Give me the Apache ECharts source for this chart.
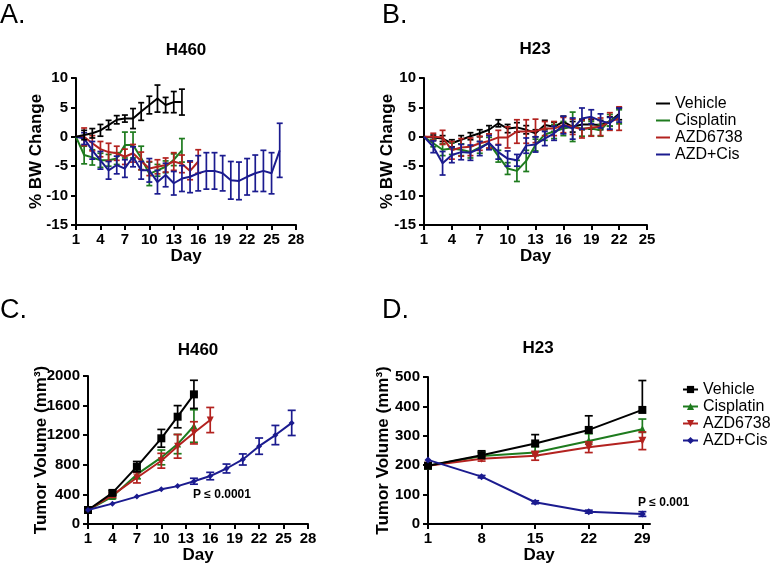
<!DOCTYPE html>
<html><head><meta charset="utf-8">
<script src="https://cdn.jsdelivr.net/npm/echarts@6/dist/echarts.min.js"></script>
<style>html,body{margin:0;padding:0;background:#fff}#c{width:772px;height:567px}</style>
</head><body><div id="c"></div>
<script>
// ---------- DATA ----------
const seriesNames = ['Vehicle', 'Cisplatin', 'AZD6738', 'AZD+Cis'];

// Panel A: H460 body weight change (%)
const daysA_short = [1,2,3,4,5,6,7,8,9,10,11,12,13,14];
const daysA_azd = [1,2,3,4,5,6,7,8,9,10,11,12,13,14,15,16];
const daysA_combo = [1,2,3,4,5,6,7,8,9,10,11,12,13,14,15,16,17,18,19,20,21,22,23,24,25,26];
const A_vehicle = [0, 0.3, 0.6, 1.1, 2.0, 2.9, 3.1, 3.1, 4.3, 5.4, 6.5, 5.4, 5.9, 5.9];
const A_vehicle_err = [0, 0.8, 0.8, 1.0, 0.8, 0.7, 0.6, 1.7, 1.5, 1.5, 2.3, 1.3, 1.8, 2.2];
const A_cis = [0, -3.1, -3.5, -4.0, -4.0, -3.7, -1.4, -1.4, -3.6, -6.3, -5.7, -5.1, -3.9, -2.3];
const A_cis_err = [0, 1.5, 1.3, 1.2, 1.0, 1.0, 2.2, 2.2, 2.0, 2.0, 1.0, 1.0, 1.0, 2.0];
const A_azd = [0, 0, -1.1, -2.1, -2.6, -2.8, -3.4, -2.8, -4.1, -5.4, -5.1, -4.8, -4.2, -4.6, -5.8, -4.2];
const A_azd_err = [0, 1.5, 1.3, 1.3, 1.5, 1.2, 1.3, 1.5, 1.5, 1.2, 1.2, 1.2, 1.5, 1.5, 1.5, 2.0];
const A_combo = [0, -0.3, -2.3, -4.0, -5.7, -4.8, -5.4, -3.4, -5.7, -5.7, -7.7, -6.5, -7.9, -7.1, -6.8, -6.2, -5.8, -5.8, -6.2, -7.4, -7.5, -6.8, -6.2, -5.8, -6.2, -2.3];
const A_combo_err = [0, 1.0, 1.5, 1.5, 1.5, 1.5, 1.5, 1.7, 1.5, 2.0, 2.0, 2.0, 2.0, 2.2, 2.7, 3.0, 3.1, 3.1, 3.0, 3.2, 3.2, 3.1, 3.1, 3.5, 3.5, 4.6];

// Panel B: H23 body weight change (%)
const daysB = [1,2,3,4,5,6,7,8,9,10,11,12,13,14,15,16,17,18,19,20,21,22];
const B_vehicle = [0, -0.1, -0.3, -1.1, -0.5, 0.1, 0.6, 1.2, 2.3, 1.4, 1.6, 1.2, 0.6, 2.0, 1.7, 2.6, 1.7, 2.1, 2.1, 2.0, 2.6, 3.9];
const B_vehicle_err = [0, 0.4, 0.5, 0.6, 0.7, 0.6, 0.6, 0.7, 0.6, 0.7, 0.8, 0.7, 0.6, 0.8, 0.8, 0.9, 0.9, 0.9, 0.8, 0.8, 0.8, 1.0];
const B_cis = [0, -1.1, -2.2, -2.0, -2.2, -2.6, -1.8, -1.1, -3.3, -5.4, -5.8, -4.1, -1.4, 0.4, 0.9, 1.4, 1.7, 1.4, 1.4, 1.1, 2.8, 3.4];
const B_cis_err = [0, 0.6, 1.0, 1.0, 1.0, 1.0, 1.0, 1.0, 1.0, 1.0, 1.8, 1.8, 1.0, 1.0, 1.2, 1.2, 2.5, 1.3, 1.2, 1.0, 1.0, 1.2];
const B_azd = [0, 0, -0.1, -2.3, -1.8, -1.7, -1.1, -0.7, -0.1, -0.1, 0.9, 0.9, 1.0, 1.4, 1.4, 2.0, 1.7, 1.3, 1.6, 1.7, 2.6, 3.1];
const B_azd_err = [0, 0.6, 1.2, 1.5, 1.5, 1.5, 1.2, 1.2, 1.2, 1.8, 2.0, 2.0, 2.0, 1.2, 1.2, 1.3, 1.3, 1.5, 1.5, 1.5, 1.5, 2.0];
const B_combo = [0, -1.7, -4.5, -3.1, -2.6, -2.7, -2.0, -1.0, -2.6, -3.7, -4.0, -1.5, -1.3, -0.3, 0.6, 2.0, 1.4, 3.1, 3.4, 2.7, 2.3, 3.7];
const B_combo_err = [0, 1.0, 2.0, 1.3, 1.3, 1.3, 1.2, 1.2, 1.2, 1.3, 1.0, 1.3, 1.3, 1.2, 1.2, 1.5, 1.8, 1.8, 1.2, 1.2, 1.0, 1.2];

// Panel C: H460 tumor volume (mm3)
const daysC_short = [1, 4, 7, 10, 12, 14];
const daysC_azd = [1, 4, 7, 10, 12, 14, 16];
const daysC_combo = [1, 4, 7, 10, 12, 14, 16, 18, 20, 22, 24, 26];
const C_vehicle = [189, 420, 775, 1158, 1450, 1752];
const C_vehicle_err = [0, 30, 70, 120, 150, 190];
const C_cis = [189, 370, 670, 900, 1080, 1324];
const C_cis_err = [0, 25, 60, 100, 130, 220];
const C_azd = [189, 390, 625, 855, 1050, 1232, 1405];
const C_azd_err = [0, 30, 70, 100, 160, 150, 170];
const C_combo = [189, 275, 370, 470, 512, 578, 648, 750, 872, 1052, 1202, 1366];
const C_combo_err = [0, 0, 0, 0, 0, 40, 50, 60, 75, 110, 130, 170];

// Panel D: H23 tumor volume (mm3)
const daysD = [1, 8, 15, 22, 29];
const D_vehicle = [198, 234, 274, 320, 388];
const D_vehicle_err = [0, 15, 30, 48, 100];
const D_cis = [198, 231, 243, 282, 322];
const D_cis_err = [0, 12, 20, 25, 35];
const D_azd = [198, 222, 232, 261, 283];
const D_azd_err = [0, 8, 15, 18, 30];
const D_combo = [218, 161, 74, 42, 34];
const D_combo_err = [0, 4, 5, 5, 8];

// Tick labels
const ticksA = [1, 4, 7, 10, 13, 16, 19, 22, 25, 28];
const ticksB = [1, 4, 7, 10, 13, 16, 19, 22, 25];
const ticksC = [1, 4, 7, 10, 13, 16, 19, 22, 25, 28];
const ticksD = [1, 8, 15, 22, 29];

// ---------- STYLE ----------
const FONT = "'Liberation Sans', Arial, sans-serif";
const colors = ['#000000', '#1e7b1e', '#b3221f', '#1b1b8f'];
const invTri = 'path://M0,0 L10,0 L5,9 Z';

function makeErr(cap, dir) {
  return function (params, api) {
    const x = api.value(0), y = api.value(1), e = api.value(2);
    if (!e) return null;
    const hi = api.coord([x, dir === 'down' ? y : y + e]);
    const lo = api.coord([x, dir === 'up' ? y : y - e]);
    const st = { stroke: api.visual('color'), lineWidth: 1.7 };
    const ch = [{ type: 'line', shape: { x1: hi[0], y1: hi[1], x2: lo[0], y2: lo[1] }, style: st }];
    if (dir !== 'down') ch.push({ type: 'line', shape: { x1: hi[0] - cap, y1: hi[1], x2: hi[0] + cap, y2: hi[1] }, style: st });
    if (dir !== 'up') ch.push({ type: 'line', shape: { x1: lo[0] - cap, y1: lo[1], x2: lo[0] + cap, y2: lo[1] }, style: st });
    return { type: 'group', children: ch };
  };
}

const series = [];
function addGroup(g, ci, days, vals, errs, opt) {
  const name = seriesNames[ci];
  series.push({
    type: 'line', name, xAxisIndex: g, yAxisIndex: g,
    data: days.map((d, k) => [d, vals[k]]),
    symbol: opt.symbol || 'none', symbolSize: opt.size || 0, showSymbol: !!opt.symbol,
    lineStyle: { color: colors[ci], width: 2 }, itemStyle: { color: colors[ci] },
    z: opt.z, silent: true, animation: false
  });
  series.push({
    type: 'custom', name: name + ' error', xAxisIndex: g, yAxisIndex: g,
    data: days.map((d, k) => [d, vals[k], errs[k]]), encode: { x: 0, y: 1 },
    itemStyle: { color: colors[ci] }, renderItem: makeErr(opt.cap, opt.dir || 'both'),
    z: opt.z, silent: true, animation: false
  });
}

// C first so legend picks symbols
addGroup(2, 0, daysC_short, C_vehicle, C_vehicle_err, { symbol: 'rect', size: 8, cap: 4, z: 5 });
addGroup(2, 1, daysC_short, C_cis, C_cis_err, { symbol: 'triangle', size: 7, cap: 4, z: 3 });
addGroup(2, 2, daysC_azd, C_azd, C_azd_err, { symbol: invTri, size: 7, cap: 4, z: 4 });
addGroup(2, 3, daysC_combo, C_combo, C_combo_err, { symbol: 'diamond', size: 6, cap: 4, z: 6 });
addGroup(3, 0, daysD, D_vehicle, D_vehicle_err, { symbol: 'rect', size: 8, cap: 4, z: 5, dir: 'up' });
addGroup(3, 1, daysD, D_cis, D_cis_err, { symbol: 'triangle', size: 8, cap: 4, z: 3, dir: 'up' });
addGroup(3, 2, daysD, D_azd, D_azd_err, { symbol: invTri, size: 8, cap: 4, z: 4 });
addGroup(3, 3, daysD, D_combo, D_combo_err, { symbol: 'diamond', size: 7, cap: 4, z: 6 });
addGroup(0, 1, daysA_short, A_cis, A_cis_err, { cap: 3, z: 3 });
addGroup(0, 2, daysA_azd, A_azd, A_azd_err, { cap: 3, z: 4 });
addGroup(0, 3, daysA_combo, A_combo, A_combo_err, { cap: 3, z: 5 });
addGroup(0, 0, daysA_short, A_vehicle, A_vehicle_err, { cap: 3, z: 6 });
addGroup(1, 0, daysB, B_vehicle, B_vehicle_err, { cap: 3, z: 3 });
addGroup(1, 1, daysB, B_cis, B_cis_err, { cap: 3, z: 4 });
addGroup(1, 2, daysB, B_azd, B_azd_err, { cap: 3, z: 5 });
addGroup(1, 3, daysB, B_combo, B_combo_err, { cap: 3, z: 6 });

const axLine = { onZero: false, lineStyle: { color: '#000', width: 2 } };
const tickStyle = { color: '#000', width: 2 };
const labStyle = { color: '#000', fontFamily: FONT, fontWeight: 'bold', fontSize: 15, formatter: v => String(v) };
const nameStyle = { color: '#000', fontFamily: FONT, fontWeight: 'bold', fontSize: 17 };

function xAx(g, min, max, ticks) {
  return {
    type: 'value', gridIndex: g, min, max, name: 'Day', nameLocation: 'middle', nameGap: 21,
    nameTextStyle: nameStyle, axisLine: axLine,
    axisTick: { customValues: ticks, length: 5, lineStyle: tickStyle },
    axisLabel: Object.assign({ customValues: ticks, margin: 7 }, labStyle),
    splitLine: { show: false }
  };
}
function yAx(g, min, max, interval, name, gap) {
  return {
    type: 'value', gridIndex: g, min, max, interval, name, nameLocation: 'middle', nameGap: gap,
    nameMoveOverlap: false,
    nameTextStyle: nameStyle, axisLine: axLine,
    axisTick: { show: true, length: 5, lineStyle: tickStyle },
    axisLabel: Object.assign({ margin: 8 }, labStyle),
    splitLine: { show: false }
  };
}

const legendText = { color: '#000', fontFamily: FONT, fontSize: 16, lineHeight: 17 };

const option = {
  backgroundColor: '#fff',
  animation: false,
  grid: [
    { left: 76, top: 78, width: 220, height: 147 },
    { left: 424, top: 78, width: 223, height: 147 },
    { left: 88, top: 376, width: 220, height: 148 },
    { left: 428, top: 377, width: 222, height: 147 }
  ],
  xAxis: [xAx(0, 1, 28, ticksA), xAx(1, 1, 25, ticksB), xAx(2, 1, 28, ticksC), xAx(3, 1, 30, ticksD)],
  yAxis: [
    yAx(0, -15, 10, 5, '% BW Change', 31),
    yAx(1, -15, 10, 5, '% BW Change', 28),
    yAx(2, 0, 2000, 400, 'Tumor Volume (mm³)', 38),
    yAx(3, 0, 500, 100, 'Tumor Volume (mm³)', 36)
  ],
  legend: [
    { orient: 'vertical', left: 651, top: 90, itemWidth: 14, itemHeight: 2, itemGap: 0, icon: 'rect',
      data: seriesNames, textStyle: legendText, selectedMode: false },
    { orient: 'vertical', left: 677, top: 376, itemWidth: 15, itemHeight: 9, itemGap: 0,
      data: seriesNames, textStyle: legendText, selectedMode: false }
  ],
  graphic: [
    { type: 'text', x: 0, y: 16, style: { text: 'A.', font: '27px ' + FONT, fill: '#000', textVerticalAlign: 'middle' } },
    { type: 'text', x: 382, y: 16, style: { text: 'B.', font: '27px ' + FONT, fill: '#000', textVerticalAlign: 'middle' } },
    { type: 'text', x: 0, y: 311, style: { text: 'C.', font: '27px ' + FONT, fill: '#000', textVerticalAlign: 'middle' } },
    { type: 'text', x: 382, y: 311, style: { text: 'D.', font: '27px ' + FONT, fill: '#000', textVerticalAlign: 'middle' } },
    { type: 'text', x: 186, y: 50, style: { text: 'H460', font: 'bold 17px ' + FONT, fill: '#000', textAlign: 'center', textVerticalAlign: 'middle' } },
    { type: 'text', x: 535, y: 49, style: { text: 'H23', font: 'bold 17px ' + FONT, fill: '#000', textAlign: 'center', textVerticalAlign: 'middle' } },
    { type: 'text', x: 198, y: 350, style: { text: 'H460', font: 'bold 17px ' + FONT, fill: '#000', textAlign: 'center', textVerticalAlign: 'middle' } },
    { type: 'text', x: 538, y: 348, style: { text: 'H23', font: 'bold 17px ' + FONT, fill: '#000', textAlign: 'center', textVerticalAlign: 'middle' } },
    { type: 'text', x: 193, y: 495, style: { text: 'P ≤ 0.0001', font: 'bold 12px ' + FONT, fill: '#000', textVerticalAlign: 'middle' } },
    { type: 'text', x: 638, y: 503, style: { text: 'P ≤ 0.001', font: 'bold 12px ' + FONT, fill: '#000', textVerticalAlign: 'middle' } }
  ],
  series
};

const chart = echarts.init(document.getElementById('c'), null, { renderer: 'canvas' });
chart.setOption(option);
</script>
</body></html>
